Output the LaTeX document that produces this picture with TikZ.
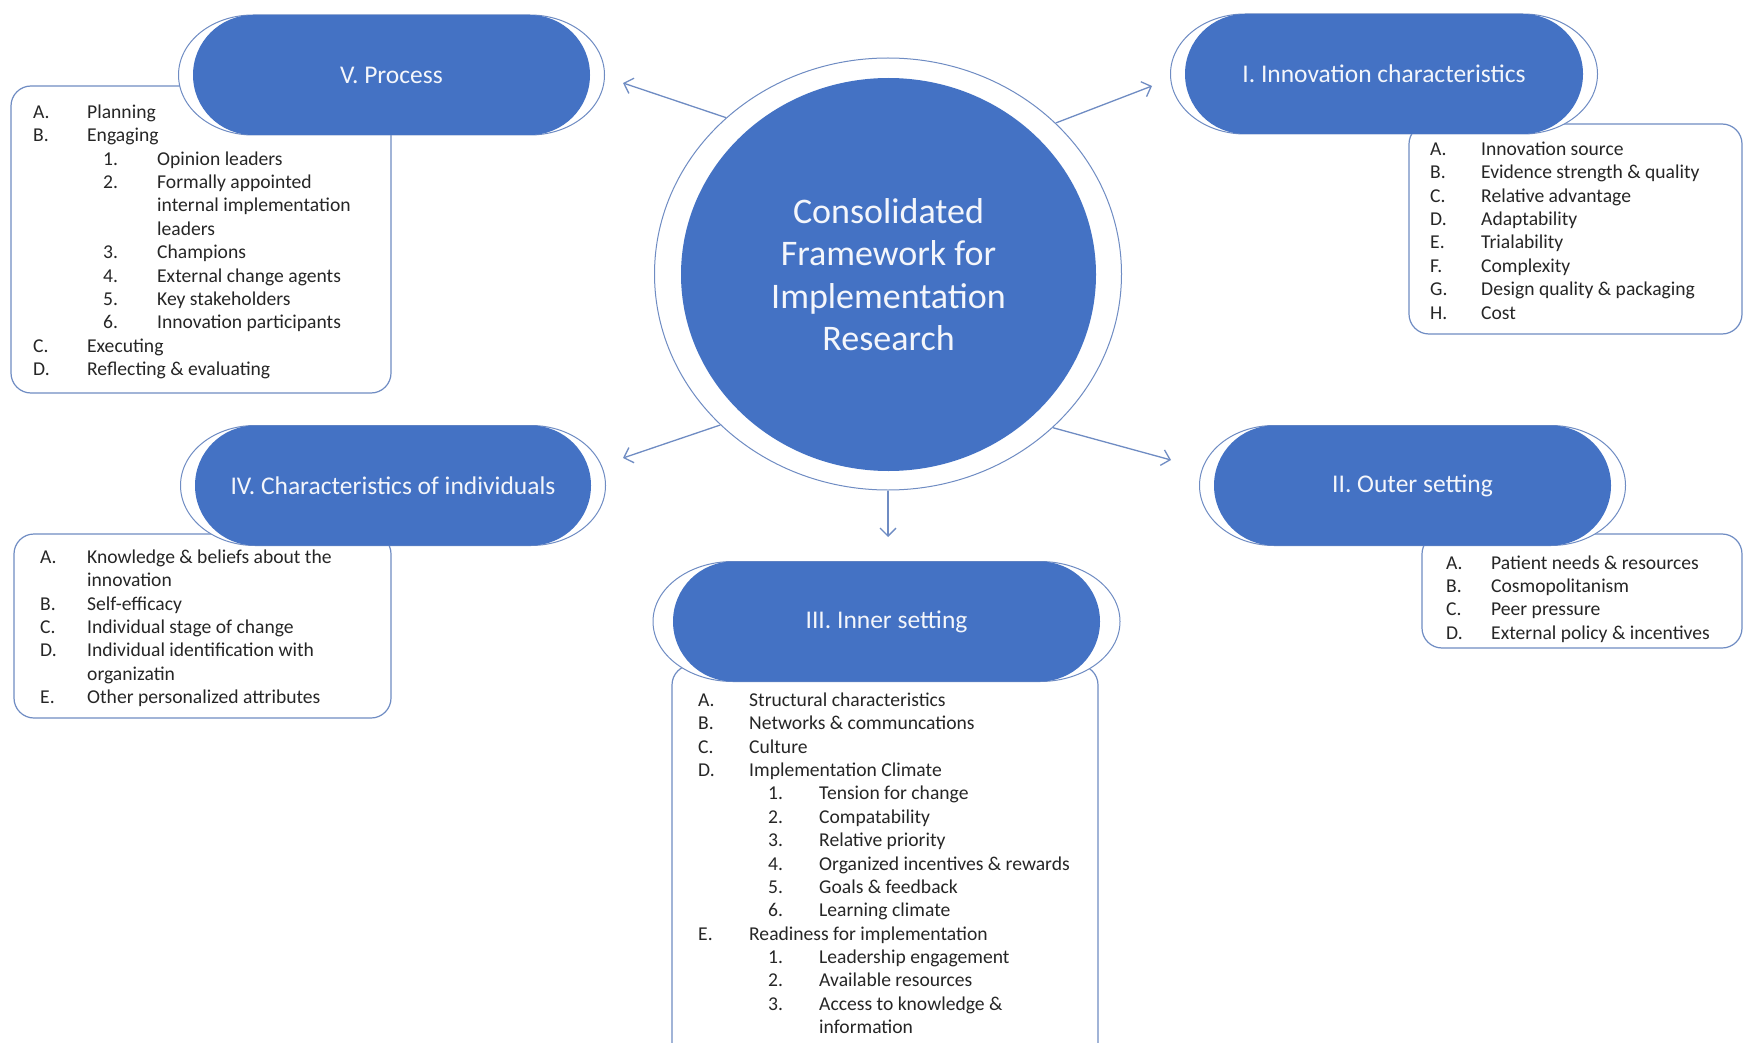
\documentclass[tikz,border=0pt]{standalone}
\usepackage{fontspec}
\setmainfont{Carlito}
\usetikzlibrary{shapes.geometric,shapes.misc,arrows.meta,calc}
\definecolor{cblue}{HTML}{4472C4}
\definecolor{cline}{HTML}{6F8CC3}
\definecolor{ctext}{HTML}{262626}
\definecolor{ctitle}{HTML}{F4F6FB}
\tikzset{
  pillfill/.style={rounded rectangle, fill=cblue, inner sep=0pt, text=ctitle,
    font=\fontsize{25.5}{30}\selectfont},
  ringline/.style={draw=cline, line width=1pt, fill=white},
  listbox/.style={draw=cline, line width=1.2pt, rounded corners=20pt, fill=white, inner sep=0pt},
  listline/.style={anchor=base west, inner sep=0pt, text=ctext, font=\fontsize{19.6}{22}\selectfont},
  conn/.style={draw=cline, line width=1.3pt, -{Straight Barb[length=8pt,width=16pt]}},
}
% pill: name, cx, cy, fill width, outline width, text
\newcommand\pillshape[6]{%
  \pgfmathsetmacro\pa{#2-#4/2+60}%
  \pgfmathsetmacro\pb{#2+#4/2-60}%
  \pgfmathsetmacro\pt{#3-60}%
  \pgfmathsetmacro\pd{#3+60}%
  \pgfmathsetmacro\prx{60+(#5-#4)/2}%
  \path[ringline] (\pa,\pt) -- (\pb,\pt)
     arc[start angle=90,end angle=-90,x radius=\prx pt,y radius=60pt]
     -- (\pa,\pd)
     arc[start angle=270,end angle=90,x radius=\prx pt,y radius=60pt] -- cycle;
  \node[pillfill, minimum width=#4pt, minimum height=120pt] (#1) at (#2,#3) {#6};
}
% list lines: name, letter x, gap, sub offset, first baseline y, items
\newcommand\listlines[6]{%
  \foreach \lv/\lab/\txt [count=\i from 0] in {#6} {
    \node[listline] (#1-\i) at ({#2+\lv*#4},{#5+\i*23.37}) {\makebox[#3pt][l]{\lab}\txt};
  }%
}
\begin{document}
\begin{tikzpicture}[x=1pt,y=-1pt]
\useasboundingbox (0,0) rectangle (1745,1043);
\fill[white] (0,0) rectangle (1745,1043);
\clip (0,0) rectangle (1745,1043);

% list boxes
\node[listbox, minimum width=380pt, minimum height=307pt] (procbox) at (201,239.5) {};
\node[listbox, minimum width=333pt, minimum height=210pt] (innovbox) at (1575.5,229) {};
\node[listbox, minimum width=377pt, minimum height=184pt] (indivbox) at (202.5,626) {};
\node[listbox, minimum width=320pt, minimum height=114pt] (outerbox) at (1582,591) {};
\node[listbox, minimum width=426pt, minimum height=398pt] (innerbox) at (885,864) {};

% pills
\pillshape{proc}{391.5}{75}{397}{426}{V. Process}
\pillshape{innov}{1384}{74}{398}{427}{I. Innovation characteristics}
\pillshape{indiv}{393}{485.5}{396}{425}{IV. Characteristics of individuals}
\pillshape{outer}{1412.5}{485.5}{397}{426}{II. Outer setting}
\pillshape{inner}{886.5}{621.5}{427}{467}{III. Inner setting}

% centre
\node[ellipse, draw=cline, line width=1pt, minimum width=467pt, minimum height=432pt] (ring) at (888,274) {};
\node[ellipse, fill=cblue, minimum width=415pt, minimum height=393pt, inner sep=0pt,
      text=ctitle, align=center, font=\fontsize{36}{42.5}\selectfont] (cfir) at (888.5,274.5)
      {Consolidated\\Framework for\\Implementation\\Research};

% connectors
\coordinate (tUL) at (623,83);
\coordinate (tUR) at (1152,86);
\coordinate (tLL) at (623,458);
\coordinate (tLR) at (1171,460);
\coordinate (tD) at (888,537);
\draw[conn] (ring.136.8) -- (tUL);
\draw[conn] (ring.42.3) -- (tUR);
\draw[conn] (ring.222.8) -- (tLL);
\draw[conn] (ring.317.7) -- (tLR);
\draw[conn] (ring.270) -- (tD);

% lists
\listlines{pl}{33}{54}{70}{118.5}{
  0/A./Planning,
  0/B./Engaging,
  1/1./Opinion leaders,
  1/2./Formally appointed,
  1//internal implementation,
  1//leaders,
  1/3./Champions,
  1/4./External change agents,
  1/5./Key stakeholders,
  1/6./Innovation participants,
  0/C./Executing,
  0/D./Reflecting \& evaluating}
\listlines{il}{1430}{51}{70}{155.5}{
  0/A./Innovation source,
  0/B./Evidence strength \& quality,
  0/C./Relative advantage,
  0/D./Adaptability,
  0/E./Trialability,
  0/F./Complexity,
  0/G./Design quality \& packaging,
  0/H./Cost}
\listlines{cl}{40}{47}{70}{563.5}{
  0/A./Knowledge \& beliefs about the,
  0//innovation,
  0/B./Self-efficacy,
  0/C./Individual stage of change,
  0/D./Individual identification with,
  0//organizatin,
  0/E./Other personalized attributes}
\listlines{ol}{1446}{45}{70}{569}{
  0/A./Patient needs \& resources,
  0/B./Cosmopolitanism,
  0/C./Peer pressure,
  0/D./External policy \& incentives}
\listlines{nl}{698}{51}{70}{706.5}{
  0/A./Structural characteristics,
  0/B./Networks \& communcations,
  0/C./Culture,
  0/D./Implementation Climate,
  1/1./Tension for change,
  1/2./Compatability,
  1/3./Relative priority,
  1/4./Organized incentives \& rewards,
  1/5./Goals \& feedback,
  1/6./Learning climate,
  0/E./Readiness for implementation,
  1/1./Leadership engagement,
  1/2./Available resources,
  1/3./Access to knowledge \&,
  1//information}
\end{tikzpicture}
\end{document}
